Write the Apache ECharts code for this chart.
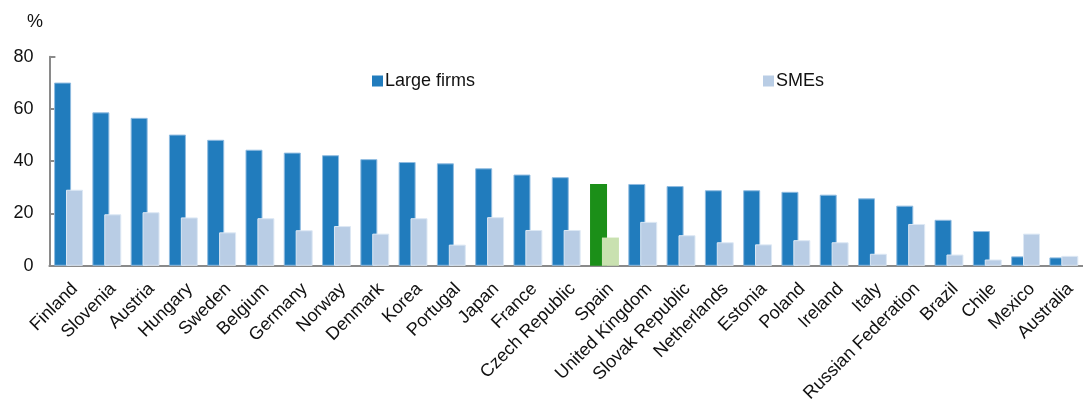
<!DOCTYPE html>
<html>
<head>
<meta charset="utf-8">
<script src="https://cdn.jsdelivr.net/npm/echarts@6/dist/echarts.min.js"></script>
<style>
  html, body { margin: 0; padding: 0; background: #ffffff; }
  #chart { width: 1083px; height: 405px; }
</style>
</head>
<body>
<div id="chart"></div>
<script>
// Share of firms (%) by country: large firms vs SMEs
const categories = ['Finland', 'Slovenia', 'Austria', 'Hungary', 'Sweden', 'Belgium', 'Germany',
  'Norway', 'Denmark', 'Korea', 'Portugal', 'Japan', 'France', 'Czech Republic', 'Spain',
  'United Kingdom', 'Slovak Republic', 'Netherlands', 'Estonia', 'Poland', 'Ireland', 'Italy',
  'Russian Federation', 'Brazil', 'Chile', 'Mexico', 'Australia'];

const largeFirms = [70.1, 58.7, 56.6, 50.2, 48.2, 44.4, 43.3, 42.3, 40.8, 39.7, 39.2, 37.3, 34.9,
  33.9, 31.3, 31.3, 30.5, 28.9, 28.9, 28.3, 27.2, 25.8, 23.0, 17.6, 13.3, 3.6, 3.2];

const smes = [29.1, 19.7, 20.5, 18.5, 12.8, 18.2, 13.6, 15.2, 12.3, 18.2, 8.1, 18.6, 13.7,
  13.7, 10.8, 16.8, 11.7, 9.0, 8.2, 9.8, 9.0, 4.6, 16.0, 4.3, 2.4, 12.3, 3.8];

const yTicks = [0, 20, 40, 60, 80];
const highlighted = 'Spain';

const colors = {
  large: '#217cbd',
  largeEdge: '#8fbbe0',
  sme: '#b9cde5',
  smeEdge: '#dde8f4',
  largeHi: '#1b8f18',
  smeHi: '#c9e1b0',
  axis: '#8a8a8a',
  text: '#111111'
};

function withHighlight(values, hiColor) {
  return values.map((v, i) => categories[i] === highlighted
    ? { value: v, itemStyle: { color: hiColor, borderWidth: 0 } }
    : v);
}

const font = 'Liberation Sans, Arial, sans-serif';

const legendBase = {
  top: 72,
  padding: 0,
  icon: 'rect', itemWidth: 11, itemHeight: 11,
  itemStyle: { borderWidth: 0 },
  textStyle: { fontSize: 18, color: colors.text, fontFamily: font, padding: [0, 0, 0, -3] }
};

const chart = echarts.init(document.getElementById('chart'), null, { renderer: 'canvas' });

chart.setOption({
  animation: false,
  backgroundColor: '#ffffff',
  textStyle: { fontFamily: font },
  grid: { left: 49.4, top: 56.7, width: 1042.2, height: 210.6, containLabel: false },
  legend: [
    Object.assign({ data: ['Large firms'], left: 372 }, legendBase),
    Object.assign({ data: ['SMEs'], left: 763 }, legendBase)
  ],
  graphic: [
    {
      type: 'text', left: 27, top: 13,
      style: { text: '%', fontSize: 18, fontFamily: font, fill: colors.text }
    }
  ],
  xAxis: {
    type: 'category',
    data: categories,
    axisLine: { show: true, lineStyle: { color: colors.axis, width: 2 } },
    axisTick: { show: false },
    axisLabel: {
      interval: 0, rotate: 45, margin: 14,
      verticalAlign: 'top',
      fontSize: 18, color: colors.text, fontFamily: font
    }
  },
  yAxis: {
    type: 'value',
    min: yTicks[0], max: yTicks[yTicks.length - 1], interval: yTicks[1] - yTicks[0],
    splitLine: { show: false },
    axisLine: { show: true, lineStyle: { color: colors.axis, width: 2 } },
    axisTick: { show: true, inside: true, length: 6, lineStyle: { color: colors.axis, width: 2 } },
    axisLabel: { margin: 16, fontSize: 18, color: colors.text, fontFamily: font }
  },
  series: [
    {
      name: 'Large firms',
      type: 'bar',
      barWidth: 17,
      barGap: '-30%',
      itemStyle: { color: colors.large, borderColor: colors.largeEdge, borderWidth: 1 },
      data: withHighlight(largeFirms, colors.largeHi)
    },
    {
      name: 'SMEs',
      type: 'bar',
      barWidth: 17,
      barGap: '-30%',
      itemStyle: { color: colors.sme, borderColor: colors.smeEdge, borderWidth: 1 },
      data: withHighlight(smes, colors.smeHi)
    }
  ]
});
</script>
</body>
</html>
